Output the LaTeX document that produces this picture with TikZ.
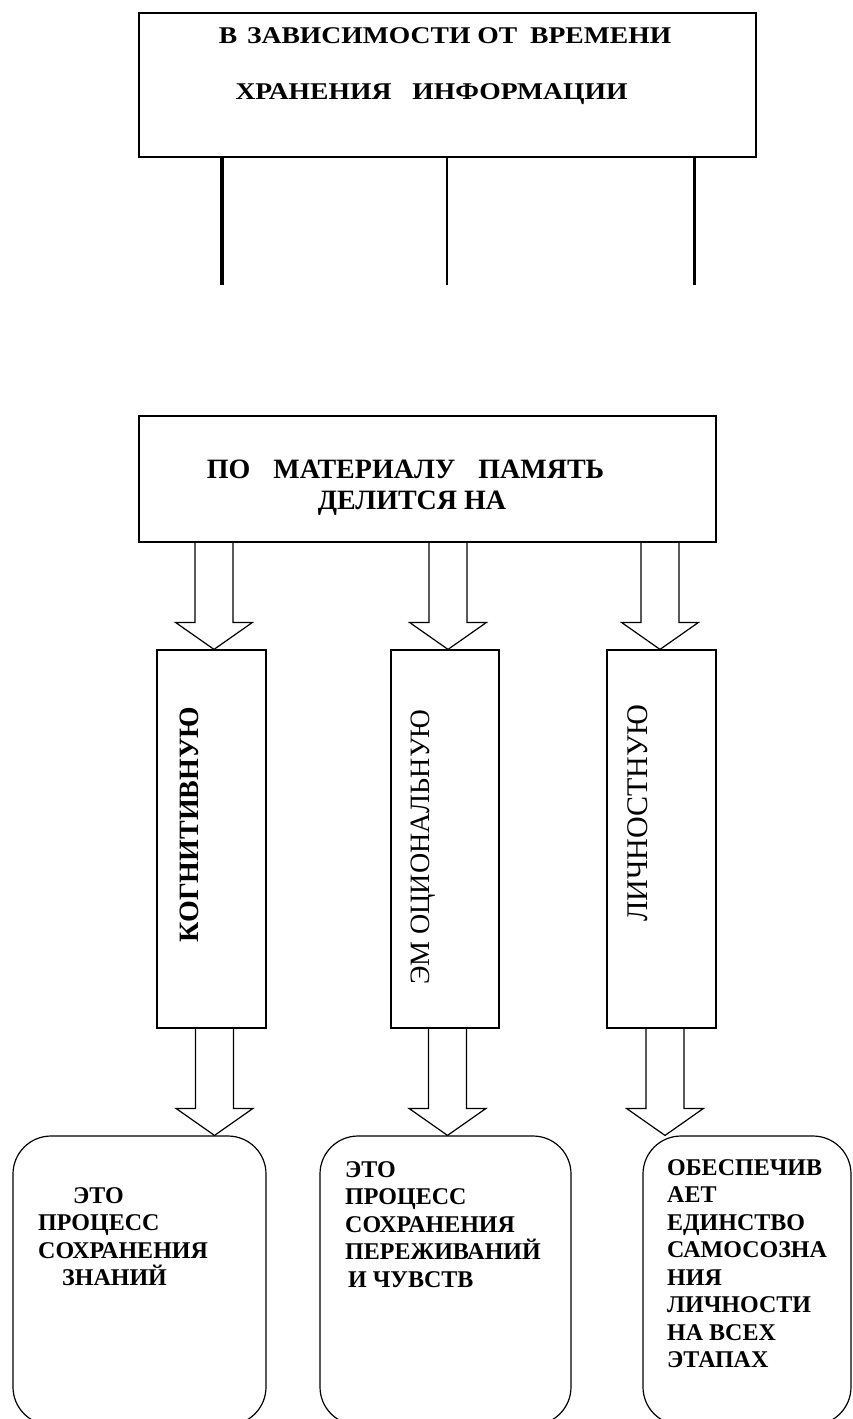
\documentclass[tikz,border=0pt]{standalone}
\usepackage{fontspec}
\setmainfont{Liberation Serif}
\newfontfamily\widefont{Liberation Serif}[FakeStretch=1.15]
\usetikzlibrary{calc}
\newcommand\blockarr[3]{%
  \draw[conn] let \p1=(#1.south), \p2=(#2.north) in
    ({#3pt-19pt},\y1) -- ({#3pt-19pt},{\y2+27pt}) -- ({#3pt-38.5pt},{\y2+27pt})
    -- (#3pt,\y2) -- ({#3pt+38.5pt},{\y2+27pt}) -- ({#3pt+19pt},{\y2+27pt})
    -- ({#3pt+19pt},\y1);}
\begin{document}
\begin{tikzpicture}[x=1pt,y=-1pt,
  box/.style={draw,line width=1.2pt,inner sep=0pt,fill=none},
  rbox/.style={draw,line width=1.2pt,inner sep=0pt,rounded corners=38pt},
  conn/.style={draw,line width=1.2pt,line join=miter},
  stem/.style={draw,line width=#1},
  hdr/.style={font=\widefont\bfseries\fontsize{24}{28}\selectfont,anchor=base,inner sep=0pt},
  mhdr/.style={font=\bfseries\fontsize{28}{32}\selectfont,anchor=base,inner sep=0pt},
  vtxt/.style={rotate=90,inner sep=0pt,font=\fontsize{28}{32}\selectfont},
  btxt/.style={anchor=north west,inner sep=0pt,align=left,font=\bfseries\fontsize{24}{27.5}\selectfont}]
\path[use as bounding box] (0,0) rectangle (852,1419);
\clip (0,0) rectangle (852,1419);
\fill[white] (0,0) rectangle (852,1419);

% top box
\node[box,minimum width=617pt,minimum height=144pt] (top) at (447.5,85) {};
\node[hdr] (t1) at (445,43) {В\hspace{3pt} ЗАВИСИМОСТИ ОТ\hspace{6pt} ВРЕМЕНИ};
\node[hdr] (t2) at (431.5,99) {ХРАНЕНИЯ\hspace{14pt} ИНФОРМАЦИИ};
\coordinate (e1) at (222,285);
\coordinate (e2) at (447,285);
\coordinate (e3) at (694,285);
\draw[stem=4pt] (top.south -| e1) -- (e1);
\draw[stem=2.5pt] (top.south -| e2) -- (e2);
\draw[stem=3pt] (top.south -| e3) -- (e3);

% material box
\node[box,minimum width=577pt,minimum height=126pt] (mat) at (427.5,479) {};
\node[mhdr] (m1) at (405.5,478) {ПО\hspace{16pt} МАТЕРИАЛУ\hspace{16pt} ПАМЯТЬ};
\node[mhdr] (m2) at (412,509) {ДЕЛИТСЯ НА};

% vertical boxes
\node[box,minimum width=109pt,minimum height=378pt] (v1) at (211.5,839) {};
\node[box,minimum width=108pt,minimum height=378pt] (v2) at (445,839) {};
\node[box,minimum width=109pt,minimum height=378pt] (v3) at (661.5,839) {};
\node[vtxt,font=\bfseries\fontsize{28}{32}\selectfont] (w1) at (189,824.5) {КОГНИТИВНУЮ};
\node[vtxt] (w2) at (423,847) {ЭМ\kern7pt ОЦИОНАЛЬНУЮ};
\node[vtxt,font=\fontsize{30}{34}\selectfont] (w3) at (637.5,813) {ЛИЧНОСТНУЮ};

% rounded boxes
\node[rbox,minimum width=253pt,minimum height=289pt] (r1) at (139.5,1280.5) {};
\node[rbox,minimum width=251pt,minimum height=289pt] (r2) at (445.5,1280.5) {};
\node[rbox,minimum width=208pt,minimum height=289pt] (r3) at (747,1280.5) {};
\node[btxt] (b1) at (38,1187) {\hspace*{35pt}ЭТО\\ПРОЦЕСС\\СОХРАНЕНИЯ\\\hspace*{24pt}ЗНАНИЙ};
\node[btxt] (b2) at (345,1161) {ЭТО\\ПРОЦЕСС\\СОХРАНЕНИЯ\\ПЕРЕЖИВАНИЙ\\\hspace*{3pt}И ЧУВСТВ};
\node[btxt] (b3) at (667,1159) {ОБЕСПЕЧИВ\\АЕТ\\ЕДИНСТВО\\САМОСОЗНА\\НИЯ\\ЛИЧНОСТИ\\НА ВСЕХ\\ЭТАПАХ};

% block arrows
\blockarr{mat}{v1}{214}
\blockarr{mat}{v2}{448}
\blockarr{mat}{v3}{660}
\blockarr{v1}{r1}{214.5}
\blockarr{v2}{r2}{447.5}
\blockarr{v3}{r3}{665}
\end{tikzpicture}
\end{document}
